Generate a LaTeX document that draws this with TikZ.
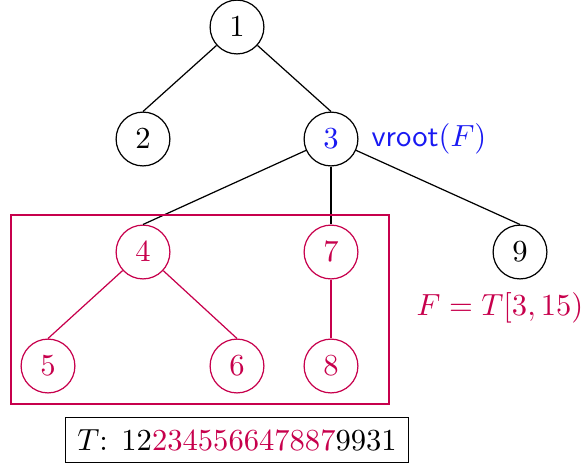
\documentclass[tikz,border=0pt]{standalone}
\definecolor{crim}{rgb}{0.78,0,0.3}
\definecolor{vblue}{rgb}{0.1,0.1,0.95}
\tikzset{
  vert/.style={circle,draw,minimum size=17.6pt,inner sep=0pt,line width=0.4pt},
  fvert/.style={vert,draw=crim,text=crim},
  edge/.style={line width=0.4pt},
  fedge/.style={edge,draw=crim},
}
\begin{document}
\begin{tikzpicture}[x=0.327pt,y=-0.327pt]
\useasboundingbox (0,0) rectangle (587,465);
\node[vert] (n1) at (237,27) {$1$};
\node[vert] (n2) at (143,139) {$2$};
\node[vert,text=vblue] (n3) at (331,139) {$3$};
\node[fvert] (n4) at (143,252) {$4$};
\node[fvert] (n7) at (331,252) {$7$};
\node[vert] (n9) at (520,252) {$9$};
\node[fvert] (n5) at (48,366) {$5$};
\node[fvert] (n6) at (237,366) {$6$};
\node[fvert] (n8) at (331,366) {$8$};
\node[text=vblue,anchor=west,inner sep=0pt] (vr) at (371,139) {\textsf{vroot}$(F)$};
\draw[edge] (n1) -- (n2.north);
\draw[edge] (n1) -- (n3.north);
\draw[edge] (n3) -- (n4.north);
\draw[edge] (n3) -- (n7.north);
\draw[edge] (n3) -- (n9.north);
\draw[fedge] (n4) -- (n5.north);
\draw[fedge] (n4) -- (n6.north);
\draw[fedge] (n7) -- (n8.north);
\node[draw=crim,line width=0.8pt,minimum width=378*0.327pt,minimum height=189*0.327pt,inner sep=0pt] (fbox) at (200,309.5) {};
\node[text=crim] (flab) at (500,308) {$F=T[3,15)$};
\node[draw,line width=0.35pt,inner sep=3.8pt] (tbox) at (237,440) {$T$: 12\textcolor{crim}{234556647887}9931};
\end{tikzpicture}
\end{document}
